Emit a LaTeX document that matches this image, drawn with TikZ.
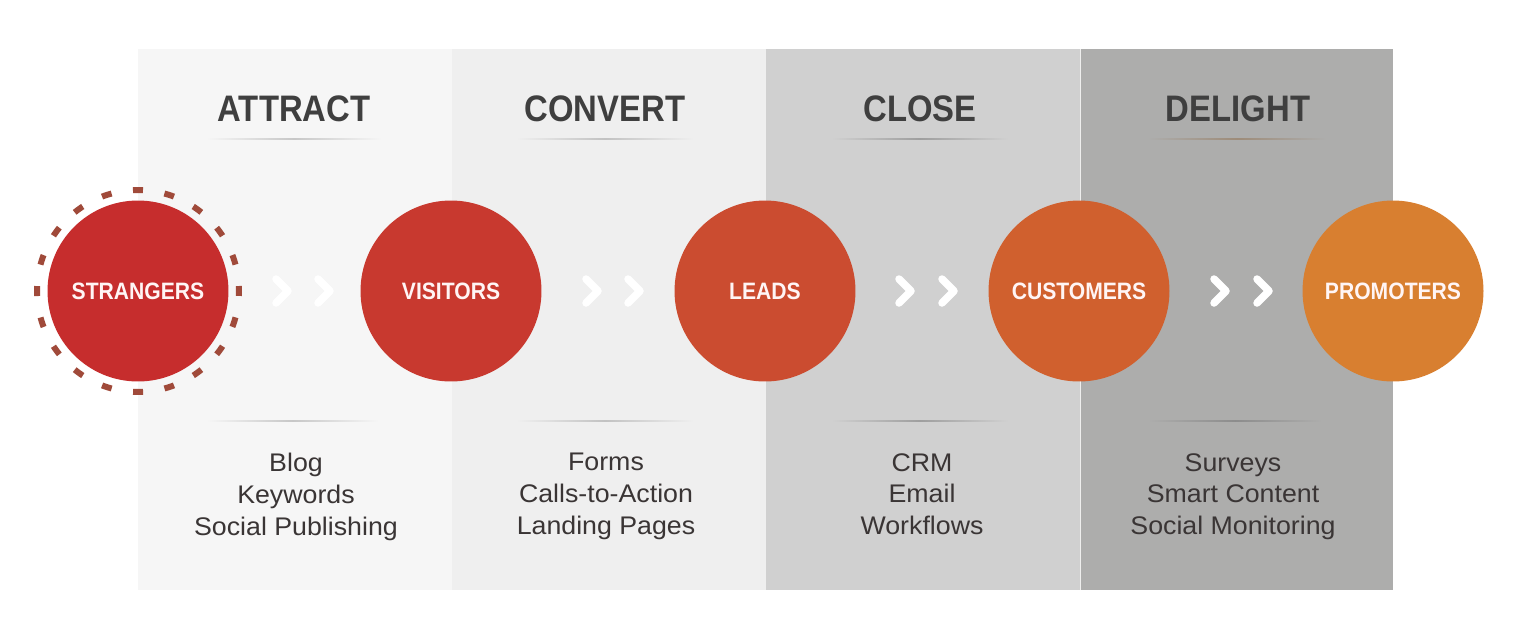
\documentclass[tikz,border=0pt]{standalone}
\usepackage{fontspec}
\setmainfont[FakeStretch=1.05, BoldFeatures={FakeStretch=0.89}]{Liberation Sans}
\definecolor{panelA}{HTML}{F6F6F6}
\definecolor{panelB}{HTML}{EFEFEF}
\definecolor{panelC}{HTML}{D0D0D0}
\definecolor{panelD}{HTML}{ADADAC}
\definecolor{headtext}{HTML}{3F3F3F}
\definecolor{listtext}{HTML}{3A3535}
\definecolor{ringcol}{HTML}{A04A3A}
\definecolor{stageA}{HTML}{C62D2D}
\definecolor{stageB}{HTML}{C8392F}
\definecolor{stageC}{HTML}{CB4C30}
\definecolor{stageD}{HTML}{D0602E}
\definecolor{stageE}{HTML}{D87F30}
\tikzset{
  stage/.style={circle, minimum size=3.62cm, inner sep=0pt, text=white!96!red,
    font=\fontsize{13.5}{16}\selectfont\bfseries},
  heading/.style={text=headtext, font=\fontsize{21}{25}\selectfont\bfseries, anchor=base},
  tools/.style={text=listtext, align=center, anchor=north, font=\fontsize{14.5}{18.2}\selectfont},
  chevron/.style={white, line width=0.15cm, line cap=round, line join=round}
}
\begin{document}
\begin{tikzpicture}[x=0.02cm, y=-0.02cm]
\useasboundingbox[fill=white] (0,0) rectangle (1520,640);
% panels
\fill[panelA] (138,49) rectangle (452,590);
\fill[panelB] (452,49) rectangle (766,590);
\fill[panelC] (766,49) rectangle (1080,590);
\fill[panelD] (1080,49) rectangle (1393,590);
\draw[white!80!panelD, line width=0.02cm] (1080,49) -- (1080,590);
% headings
\node[heading] (attract) at (294,121) {ATTRACT};
\node[heading] (convert) at (605,121) {CONVERT};
\node[heading] (close) at (920,121) {CLOSE};
\node[heading] (delight) at (1238,121) {DELIGHT};
% rules
\shade[left color=panelA, right color=panelA, middle color=black!22] (207,138.3) rectangle (381,139.7);
\shade[left color=panelB, right color=panelB, middle color=black!24] (517,138.3) rectangle (693,139.7);
\shade[left color=panelC, right color=panelC, middle color=black!38] (832,138.3) rectangle (1008,139.7);
\shade[left color=panelD, right color=panelD, middle color=black!30!brown!40!panelD] (1148,138.3) rectangle (1326,139.7);
\shade[left color=panelA, right color=panelA, middle color=black!22] (207,420.3) rectangle (378,421.7);
\shade[left color=panelB, right color=panelB, middle color=black!24] (517,420.3) rectangle (693,421.7);
\shade[left color=panelC, right color=panelC, middle color=black!38] (832,420.3) rectangle (1008,421.7);
\shade[left color=panelD, right color=panelD, middle color=black!45] (1148,420.3) rectangle (1322,421.7);
% stages
\node[stage, fill=stageA] (strangers) at (138,291) {STRANGERS};
\node[stage, fill=stageB] (visitors) at (451,291) {VISITORS};
\node[stage, fill=stageC] (leads) at (765,291) {LEADS};
\node[stage, fill=stageD] (customers) at (1079,291) {CUSTOMERS};
\node[stage, fill=stageE] (promoters) at (1393,291) {PROMOTERS};
\draw[ringcol, line width=0.12cm, dash pattern=on 0.2cm off 0.4347cm, dash phase=0.1cm] (strangers.center) circle[radius=2.02cm];
% chevrons
\draw[chevron] (276,279) -- (288,291) -- (276,303);
\draw[chevron] (318,279) -- (330,291) -- (318,303);
\draw[chevron] (586,279) -- (598,291) -- (586,303);
\draw[chevron] (628,279) -- (640,291) -- (628,303);
\draw[chevron] (899,279) -- (911,291) -- (899,303);
\draw[chevron] (942,279) -- (954,291) -- (942,303);
\draw[chevron] (1214,279) -- (1226,291) -- (1214,303);
\draw[chevron] (1257,279) -- (1269,291) -- (1257,303);
% tools
\node[tools] (attracttools) at (296,447) {Blog\\Keywords\\Social Publishing};
\node[tools] (converttools) at (606,447) {Forms\\Calls-to-Action\\Landing Pages};
\node[tools] (closetools) at (922,447) {CRM\\Email\\Workflows};
\node[tools] (delighttools) at (1233,447) {Surveys\\Smart Content\\Social Monitoring};
\end{tikzpicture}
\end{document}
